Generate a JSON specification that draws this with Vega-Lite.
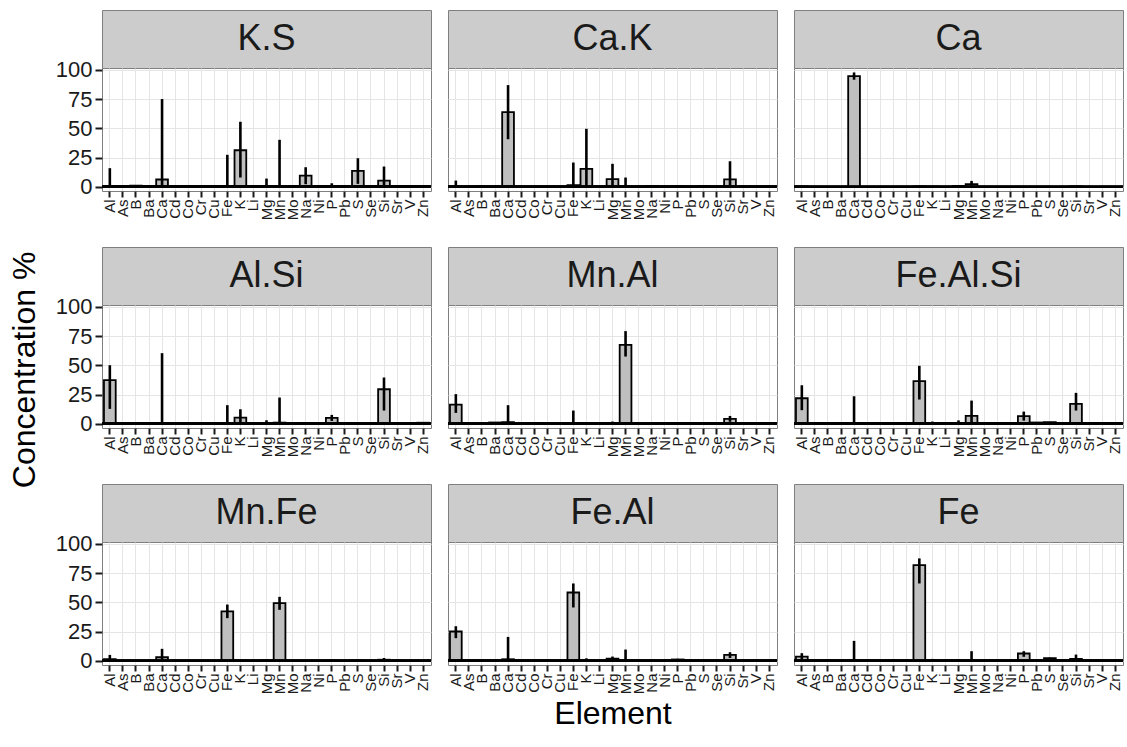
{
"$schema": "https://vega.github.io/schema/vega-lite/v6.json",
"background": "white",
"padding": {"left": 8, "top": 9, "right": 0, "bottom": 0},
"title": {"text": "Concentration %", "orient": "left", "anchor": "middle", "fontSize": 32, "font": "Liberation Sans", "fontWeight": "normal", "color": "#000000", "offset": 13},
"config": {
  "font": "Liberation Sans",
  "view": {"stroke": "#7f7f7f", "strokeWidth": 1},
  "axis": {"labelFont": "Liberation Sans", "titleFont": "Liberation Sans", "labelColor": "#1a1a1a", "titleColor": "#000000", "tickColor": "#1a1a1a", "tickWidth": 2, "domain": false, "gridColor": "#e5e5e5", "gridWidth": 1, "titleFontWeight": "normal"},
  "axisX": {"labelAngle": -90, "labelFontSize": 15, "tickSize": 6, "labelPadding": 2, "grid": true, "bandPosition": 0.5, "titleFontSize": 32, "titlePadding": 5},
  "axisY": {"labelFontSize": 22, "tickSize": 7, "labelPadding": 3, "grid": true}
},
"datasets": {
"d": [
{"p":"K.S","el":"Al","m":0.3,"lo":0,"hi":16},
{"p":"K.S","el":"B","m":1,"lo":0.5,"hi":1.5},
{"p":"K.S","el":"Ba","m":0.3},
{"p":"K.S","el":"Ca","m":6.3,"lo":0,"hi":75},
{"p":"K.S","el":"Fe","m":0.3,"lo":0,"hi":27.4},
{"p":"K.S","el":"K","m":31.3,"lo":8,"hi":55.6},
{"p":"K.S","el":"Li","m":0.5},
{"p":"K.S","el":"Mg","m":0.2,"lo":0,"hi":7.1},
{"p":"K.S","el":"Mn","m":0.3,"lo":0,"hi":40.2},
{"p":"K.S","el":"Na","m":9.7,"lo":2.3,"hi":16.8},
{"p":"K.S","el":"P","m":0.2,"lo":0,"hi":3.1},
{"p":"K.S","el":"Pb","m":0.4},
{"p":"K.S","el":"S","m":13.7,"lo":2.6,"hi":24.5},
{"p":"K.S","el":"Si","m":5.4,"lo":0,"hi":17.4},
{"p":"K.S","el":"Sr","m":0.2},
{"p":"K.S","el":"Zn","m":0.5},
{"p":"Ca.K","el":"Al","m":0.2,"lo":0,"hi":5.4},
{"p":"Ca.K","el":"B","m":0.5,"lo":0,"hi":1},
{"p":"Ca.K","el":"Ca","m":63.8,"lo":40.7,"hi":86.9},
{"p":"Ca.K","el":"Fe","m":1.4,"lo":0,"hi":20.8},
{"p":"Ca.K","el":"K","m":15.4,"lo":0,"hi":49.6},
{"p":"Ca.K","el":"Mg","m":6.6,"lo":0,"hi":19.7},
{"p":"Ca.K","el":"Mn","m":0.3,"lo":0,"hi":8},
{"p":"Ca.K","el":"Na","m":0.8},
{"p":"Ca.K","el":"P","m":0.5},
{"p":"Ca.K","el":"S","m":0.8},
{"p":"Ca.K","el":"Si","m":6.5,"lo":0,"hi":21.9},
{"p":"Ca","el":"Al","m":0.5},
{"p":"Ca","el":"Ca","m":94.6,"lo":91.5,"hi":97.7},
{"p":"Ca","el":"Fe","m":0.5},
{"p":"Ca","el":"K","m":0.3},
{"p":"Ca","el":"Mg","m":0.8},
{"p":"Ca","el":"Mn","m":2.3,"lo":0,"hi":5.1},
{"p":"Ca","el":"Si","m":0.5},
{"p":"Al.Si","el":"Al","m":37.3,"lo":12.8,"hi":50.1},
{"p":"Al.Si","el":"B","m":0.3},
{"p":"Al.Si","el":"Ba","m":0.8},
{"p":"Al.Si","el":"Ca","m":0.3,"lo":0,"hi":60.4},
{"p":"Al.Si","el":"Fe","m":0.3,"lo":0,"hi":16},
{"p":"Al.Si","el":"K","m":5.4,"lo":0,"hi":12.5},
{"p":"Al.Si","el":"Mg","m":0.2,"lo":0,"hi":3.1},
{"p":"Al.Si","el":"Mn","m":1.1,"lo":0,"hi":22.5},
{"p":"Al.Si","el":"Na","m":0.8},
{"p":"Al.Si","el":"P","m":5.1,"lo":2.5,"hi":7.7},
{"p":"Al.Si","el":"Pb","m":0.3},
{"p":"Al.Si","el":"Si","m":29.6,"lo":11.4,"hi":39.6},
{"p":"Al.Si","el":"Sr","m":0.3},
{"p":"Al.Si","el":"Zn","m":1},
{"p":"Mn.Al","el":"Al","m":16.5,"lo":9.4,"hi":25.4},
{"p":"Mn.Al","el":"Ba","m":1.2},
{"p":"Mn.Al","el":"Ca","m":1.5,"lo":0,"hi":16},
{"p":"Mn.Al","el":"Co","m":0.5},
{"p":"Mn.Al","el":"Fe","m":0.3,"lo":0,"hi":11.4},
{"p":"Mn.Al","el":"K","m":0.3,"lo":0,"hi":1.5},
{"p":"Mn.Al","el":"Mg","m":0.8,"lo":0,"hi":2},
{"p":"Mn.Al","el":"Mn","m":67.5,"lo":57.5,"hi":79.2},
{"p":"Mn.Al","el":"Ni","m":0.3},
{"p":"Mn.Al","el":"P","m":0.8},
{"p":"Mn.Al","el":"Pb","m":0.5},
{"p":"Mn.Al","el":"S","m":0.3},
{"p":"Mn.Al","el":"Si","m":4.3,"lo":1.8,"hi":6.8},
{"p":"Mn.Al","el":"Zn","m":0.5},
{"p":"Fe.Al.Si","el":"Al","m":21.9,"lo":11.7,"hi":33},
{"p":"Fe.Al.Si","el":"Ba","m":0.3},
{"p":"Fe.Al.Si","el":"Ca","m":0.2,"lo":0,"hi":23.6},
{"p":"Fe.Al.Si","el":"Cu","m":0.3},
{"p":"Fe.Al.Si","el":"Fe","m":36.5,"lo":20.8,"hi":49.6},
{"p":"Fe.Al.Si","el":"K","m":0.3,"lo":0,"hi":2},
{"p":"Fe.Al.Si","el":"Li","m":0.3},
{"p":"Fe.Al.Si","el":"Mg","m":0.3,"lo":0,"hi":3},
{"p":"Fe.Al.Si","el":"Mn","m":6.8,"lo":0,"hi":19.9},
{"p":"Fe.Al.Si","el":"P","m":6.6,"lo":2.8,"hi":10.5},
{"p":"Fe.Al.Si","el":"Pb","m":1.2},
{"p":"Fe.Al.Si","el":"S","m":1.5},
{"p":"Fe.Al.Si","el":"Si","m":17.1,"lo":11.4,"hi":26.5},
{"p":"Fe.Al.Si","el":"Sr","m":0.3},
{"p":"Fe.Al.Si","el":"V","m":0.3},
{"p":"Fe.Al.Si","el":"Zn","m":0.3},
{"p":"Mn.Fe","el":"Al","m":1.4,"lo":0,"hi":5.1},
{"p":"Mn.Fe","el":"Ca","m":3.1,"lo":0,"hi":10.3},
{"p":"Mn.Fe","el":"Fe","m":42.2,"lo":36.5,"hi":48.1},
{"p":"Mn.Fe","el":"K","m":0.3},
{"p":"Mn.Fe","el":"Mg","m":0.5},
{"p":"Mn.Fe","el":"Mn","m":49.3,"lo":43.6,"hi":54.7},
{"p":"Mn.Fe","el":"P","m":0.3},
{"p":"Mn.Fe","el":"S","m":0.3},
{"p":"Mn.Fe","el":"Si","m":1,"lo":0,"hi":2.5},
{"p":"Mn.Fe","el":"Sr","m":0.2},
{"p":"Fe.Al","el":"Al","m":25.1,"lo":19.4,"hi":29.6},
{"p":"Fe.Al","el":"B","m":0.3},
{"p":"Fe.Al","el":"Ca","m":1.4,"lo":0,"hi":20.5},
{"p":"Fe.Al","el":"Cr","m":0.3},
{"p":"Fe.Al","el":"Fe","m":58.4,"lo":45.6,"hi":66.1},
{"p":"Fe.Al","el":"K","m":0.3,"lo":0,"hi":2.2},
{"p":"Fe.Al","el":"Mg","m":2,"lo":0.5,"hi":3.7},
{"p":"Fe.Al","el":"Mn","m":0.3,"lo":0,"hi":9.7},
{"p":"Fe.Al","el":"P","m":1.2,"lo":0.6,"hi":1.8},
{"p":"Fe.Al","el":"S","m":0.3,"lo":0,"hi":1},
{"p":"Fe.Al","el":"Si","m":5.1,"lo":2.5,"hi":7.4},
{"p":"Fe.Al","el":"Zn","m":0.3},
{"p":"Fe","el":"Al","m":3.7,"lo":0.8,"hi":6.6},
{"p":"Fe","el":"B","m":0.3},
{"p":"Fe","el":"Ca","m":0.2,"lo":0,"hi":17.1},
{"p":"Fe","el":"Cr","m":0.3},
{"p":"Fe","el":"Fe","m":81.8,"lo":66.1,"hi":87.5},
{"p":"Fe","el":"K","m":0.3,"lo":0,"hi":1.7},
{"p":"Fe","el":"Li","m":0.3},
{"p":"Fe","el":"Mg","m":0.3,"lo":0,"hi":1.5},
{"p":"Fe","el":"Mn","m":0.3,"lo":0,"hi":8.3},
{"p":"Fe","el":"P","m":6.3,"lo":3.5,"hi":8.3},
{"p":"Fe","el":"S","m":2.3,"lo":1.8,"hi":2.8},
{"p":"Fe","el":"Si","m":1.7,"lo":0,"hi":5.4},
{"p":"Fe","el":"V","m":0.3}
]
},
"vconcat": [
{"hconcat": [
 {"vconcat": [
  {"width":329,"height":58,"data":{"values":[{"p":"K.S"}]},"mark":{"type":"text","fontSize":36,"font":"Liberation Sans","color":"#1a1a1a"},"encoding":{"text":{"field":"p"}},"view":{"fill":"#cccccc","stroke":"#7f7f7f"}},
  {"width":329,"height":123,"data":{"name":"d"},"transform":[{"filter":{"field":"p","equal":"K.S"}}],
   "layer":[
    {"mark":{"type":"bar","fill":"#bfbfbf","stroke":"#000000","strokeWidth":1.8},
     "encoding":{"x":{"field":"el","type":"nominal","sort":["Al","As","B","Ba","Ca","Cd","Co","Cr","Cu","Fe","K","Li","Mg","Mn","Mo","Na","Ni","P","Pb","S","Se","Si","Sr","V","Zn"],"scale":{"domain":["Al","As","B","Ba","Ca","Cd","Co","Cr","Cu","Fe","K","Li","Mg","Mn","Mo","Na","Ni","P","Pb","S","Se","Si","Sr","V","Zn"],"paddingInner":0.1,"paddingOuter":0.15},"title":null},
      "y":{"field":"m","type":"quantitative","scale":{"domain":[-3.5,101.5],"nice":false,"zero":false},"axis":{"values":[0,25,50,75,100]},"title":null}}},
    {"mark":{"type":"rule","stroke":"#000000","strokeWidth":2.2},"encoding":{"y":{"datum":0,"axis":null}}},
    {"mark":{"type":"rule","stroke":"#000000","strokeWidth":2.6},
     "encoding":{"x":{"field":"el","type":"nominal"},"y":{"field":"lo","type":"quantitative","axis":{"orient":"right","values":[12.5,37.5,62.5,87.5],"labels":false,"ticks":false,"gridColor":"#f0f0f0"},"title":null},"y2":{"field":"hi"}}}
   ],
   "resolve":{"axis":{"y":"independent"}}}
 ], "spacing":0, "bounds":"flush"},
 {"vconcat": [
  {"width":329,"height":58,"data":{"values":[{"p":"Ca.K"}]},"mark":{"type":"text","fontSize":36,"font":"Liberation Sans","color":"#1a1a1a"},"encoding":{"text":{"field":"p"}},"view":{"fill":"#cccccc","stroke":"#7f7f7f"}},
  {"width":329,"height":123,"data":{"name":"d"},"transform":[{"filter":{"field":"p","equal":"Ca.K"}}],
   "layer":[
    {"mark":{"type":"bar","fill":"#bfbfbf","stroke":"#000000","strokeWidth":1.8},
     "encoding":{"x":{"field":"el","type":"nominal","sort":["Al","As","B","Ba","Ca","Cd","Co","Cr","Cu","Fe","K","Li","Mg","Mn","Mo","Na","Ni","P","Pb","S","Se","Si","Sr","V","Zn"],"scale":{"domain":["Al","As","B","Ba","Ca","Cd","Co","Cr","Cu","Fe","K","Li","Mg","Mn","Mo","Na","Ni","P","Pb","S","Se","Si","Sr","V","Zn"],"paddingInner":0.1,"paddingOuter":0.15},"title":null},
      "y":{"field":"m","type":"quantitative","scale":{"domain":[-3.5,101.5],"nice":false,"zero":false},"axis":{"values":[0,25,50,75,100],"labels":false,"ticks":false},"title":null}}},
    {"mark":{"type":"rule","stroke":"#000000","strokeWidth":2.2},"encoding":{"y":{"datum":0,"axis":null}}},
    {"mark":{"type":"rule","stroke":"#000000","strokeWidth":2.6},
     "encoding":{"x":{"field":"el","type":"nominal"},"y":{"field":"lo","type":"quantitative","axis":{"orient":"right","values":[12.5,37.5,62.5,87.5],"labels":false,"ticks":false,"gridColor":"#f0f0f0"},"title":null},"y2":{"field":"hi"}}}
   ],
   "resolve":{"axis":{"y":"independent"}}}
 ], "spacing":0, "bounds":"flush"},
 {"vconcat": [
  {"width":329,"height":58,"data":{"values":[{"p":"Ca"}]},"mark":{"type":"text","fontSize":36,"font":"Liberation Sans","color":"#1a1a1a"},"encoding":{"text":{"field":"p"}},"view":{"fill":"#cccccc","stroke":"#7f7f7f"}},
  {"width":329,"height":123,"data":{"name":"d"},"transform":[{"filter":{"field":"p","equal":"Ca"}}],
   "layer":[
    {"mark":{"type":"bar","fill":"#bfbfbf","stroke":"#000000","strokeWidth":1.8},
     "encoding":{"x":{"field":"el","type":"nominal","sort":["Al","As","B","Ba","Ca","Cd","Co","Cr","Cu","Fe","K","Li","Mg","Mn","Mo","Na","Ni","P","Pb","S","Se","Si","Sr","V","Zn"],"scale":{"domain":["Al","As","B","Ba","Ca","Cd","Co","Cr","Cu","Fe","K","Li","Mg","Mn","Mo","Na","Ni","P","Pb","S","Se","Si","Sr","V","Zn"],"paddingInner":0.1,"paddingOuter":0.15},"title":null},
      "y":{"field":"m","type":"quantitative","scale":{"domain":[-3.5,101.5],"nice":false,"zero":false},"axis":{"values":[0,25,50,75,100],"labels":false,"ticks":false},"title":null}}},
    {"mark":{"type":"rule","stroke":"#000000","strokeWidth":2.2},"encoding":{"y":{"datum":0,"axis":null}}},
    {"mark":{"type":"rule","stroke":"#000000","strokeWidth":2.6},
     "encoding":{"x":{"field":"el","type":"nominal"},"y":{"field":"lo","type":"quantitative","axis":{"orient":"right","values":[12.5,37.5,62.5,87.5],"labels":false,"ticks":false,"gridColor":"#f0f0f0"},"title":null},"y2":{"field":"hi"}}}
   ],
   "resolve":{"axis":{"y":"independent"}}}
 ], "spacing":0, "bounds":"flush"}
], "spacing":13},
{"hconcat": [
 {"vconcat": [
  {"width":329,"height":58,"data":{"values":[{"p":"Al.Si"}]},"mark":{"type":"text","fontSize":36,"font":"Liberation Sans","color":"#1a1a1a"},"encoding":{"text":{"field":"p"}},"view":{"fill":"#cccccc","stroke":"#7f7f7f"}},
  {"width":329,"height":123,"data":{"name":"d"},"transform":[{"filter":{"field":"p","equal":"Al.Si"}}],
   "layer":[
    {"mark":{"type":"bar","fill":"#bfbfbf","stroke":"#000000","strokeWidth":1.8},
     "encoding":{"x":{"field":"el","type":"nominal","sort":["Al","As","B","Ba","Ca","Cd","Co","Cr","Cu","Fe","K","Li","Mg","Mn","Mo","Na","Ni","P","Pb","S","Se","Si","Sr","V","Zn"],"scale":{"domain":["Al","As","B","Ba","Ca","Cd","Co","Cr","Cu","Fe","K","Li","Mg","Mn","Mo","Na","Ni","P","Pb","S","Se","Si","Sr","V","Zn"],"paddingInner":0.1,"paddingOuter":0.15},"title":null},
      "y":{"field":"m","type":"quantitative","scale":{"domain":[-3.5,101.5],"nice":false,"zero":false},"axis":{"values":[0,25,50,75,100]},"title":null}}},
    {"mark":{"type":"rule","stroke":"#000000","strokeWidth":2.2},"encoding":{"y":{"datum":0,"axis":null}}},
    {"mark":{"type":"rule","stroke":"#000000","strokeWidth":2.6},
     "encoding":{"x":{"field":"el","type":"nominal"},"y":{"field":"lo","type":"quantitative","axis":{"orient":"right","values":[12.5,37.5,62.5,87.5],"labels":false,"ticks":false,"gridColor":"#f0f0f0"},"title":null},"y2":{"field":"hi"}}}
   ],
   "resolve":{"axis":{"y":"independent"}}}
 ], "spacing":0, "bounds":"flush"},
 {"vconcat": [
  {"width":329,"height":58,"data":{"values":[{"p":"Mn.Al"}]},"mark":{"type":"text","fontSize":36,"font":"Liberation Sans","color":"#1a1a1a"},"encoding":{"text":{"field":"p"}},"view":{"fill":"#cccccc","stroke":"#7f7f7f"}},
  {"width":329,"height":123,"data":{"name":"d"},"transform":[{"filter":{"field":"p","equal":"Mn.Al"}}],
   "layer":[
    {"mark":{"type":"bar","fill":"#bfbfbf","stroke":"#000000","strokeWidth":1.8},
     "encoding":{"x":{"field":"el","type":"nominal","sort":["Al","As","B","Ba","Ca","Cd","Co","Cr","Cu","Fe","K","Li","Mg","Mn","Mo","Na","Ni","P","Pb","S","Se","Si","Sr","V","Zn"],"scale":{"domain":["Al","As","B","Ba","Ca","Cd","Co","Cr","Cu","Fe","K","Li","Mg","Mn","Mo","Na","Ni","P","Pb","S","Se","Si","Sr","V","Zn"],"paddingInner":0.1,"paddingOuter":0.15},"title":null},
      "y":{"field":"m","type":"quantitative","scale":{"domain":[-3.5,101.5],"nice":false,"zero":false},"axis":{"values":[0,25,50,75,100],"labels":false,"ticks":false},"title":null}}},
    {"mark":{"type":"rule","stroke":"#000000","strokeWidth":2.2},"encoding":{"y":{"datum":0,"axis":null}}},
    {"mark":{"type":"rule","stroke":"#000000","strokeWidth":2.6},
     "encoding":{"x":{"field":"el","type":"nominal"},"y":{"field":"lo","type":"quantitative","axis":{"orient":"right","values":[12.5,37.5,62.5,87.5],"labels":false,"ticks":false,"gridColor":"#f0f0f0"},"title":null},"y2":{"field":"hi"}}}
   ],
   "resolve":{"axis":{"y":"independent"}}}
 ], "spacing":0, "bounds":"flush"},
 {"vconcat": [
  {"width":329,"height":58,"data":{"values":[{"p":"Fe.Al.Si"}]},"mark":{"type":"text","fontSize":36,"font":"Liberation Sans","color":"#1a1a1a"},"encoding":{"text":{"field":"p"}},"view":{"fill":"#cccccc","stroke":"#7f7f7f"}},
  {"width":329,"height":123,"data":{"name":"d"},"transform":[{"filter":{"field":"p","equal":"Fe.Al.Si"}}],
   "layer":[
    {"mark":{"type":"bar","fill":"#bfbfbf","stroke":"#000000","strokeWidth":1.8},
     "encoding":{"x":{"field":"el","type":"nominal","sort":["Al","As","B","Ba","Ca","Cd","Co","Cr","Cu","Fe","K","Li","Mg","Mn","Mo","Na","Ni","P","Pb","S","Se","Si","Sr","V","Zn"],"scale":{"domain":["Al","As","B","Ba","Ca","Cd","Co","Cr","Cu","Fe","K","Li","Mg","Mn","Mo","Na","Ni","P","Pb","S","Se","Si","Sr","V","Zn"],"paddingInner":0.1,"paddingOuter":0.15},"title":null},
      "y":{"field":"m","type":"quantitative","scale":{"domain":[-3.5,101.5],"nice":false,"zero":false},"axis":{"values":[0,25,50,75,100],"labels":false,"ticks":false},"title":null}}},
    {"mark":{"type":"rule","stroke":"#000000","strokeWidth":2.2},"encoding":{"y":{"datum":0,"axis":null}}},
    {"mark":{"type":"rule","stroke":"#000000","strokeWidth":2.6},
     "encoding":{"x":{"field":"el","type":"nominal"},"y":{"field":"lo","type":"quantitative","axis":{"orient":"right","values":[12.5,37.5,62.5,87.5],"labels":false,"ticks":false,"gridColor":"#f0f0f0"},"title":null},"y2":{"field":"hi"}}}
   ],
   "resolve":{"axis":{"y":"independent"}}}
 ], "spacing":0, "bounds":"flush"}
], "spacing":13},
{"hconcat": [
 {"vconcat": [
  {"width":329,"height":58,"data":{"values":[{"p":"Mn.Fe"}]},"mark":{"type":"text","fontSize":36,"font":"Liberation Sans","color":"#1a1a1a"},"encoding":{"text":{"field":"p"}},"view":{"fill":"#cccccc","stroke":"#7f7f7f"}},
  {"width":329,"height":123,"data":{"name":"d"},"transform":[{"filter":{"field":"p","equal":"Mn.Fe"}}],
   "layer":[
    {"mark":{"type":"bar","fill":"#bfbfbf","stroke":"#000000","strokeWidth":1.8},
     "encoding":{"x":{"field":"el","type":"nominal","sort":["Al","As","B","Ba","Ca","Cd","Co","Cr","Cu","Fe","K","Li","Mg","Mn","Mo","Na","Ni","P","Pb","S","Se","Si","Sr","V","Zn"],"scale":{"domain":["Al","As","B","Ba","Ca","Cd","Co","Cr","Cu","Fe","K","Li","Mg","Mn","Mo","Na","Ni","P","Pb","S","Se","Si","Sr","V","Zn"],"paddingInner":0.1,"paddingOuter":0.15},"title":null},
      "y":{"field":"m","type":"quantitative","scale":{"domain":[-3.5,101.5],"nice":false,"zero":false},"axis":{"values":[0,25,50,75,100]},"title":null}}},
    {"mark":{"type":"rule","stroke":"#000000","strokeWidth":2.2},"encoding":{"y":{"datum":0,"axis":null}}},
    {"mark":{"type":"rule","stroke":"#000000","strokeWidth":2.6},
     "encoding":{"x":{"field":"el","type":"nominal"},"y":{"field":"lo","type":"quantitative","axis":{"orient":"right","values":[12.5,37.5,62.5,87.5],"labels":false,"ticks":false,"gridColor":"#f0f0f0"},"title":null},"y2":{"field":"hi"}}}
   ],
   "resolve":{"axis":{"y":"independent"}}}
 ], "spacing":0, "bounds":"flush"},
 {"vconcat": [
  {"width":329,"height":58,"data":{"values":[{"p":"Fe.Al"}]},"mark":{"type":"text","fontSize":36,"font":"Liberation Sans","color":"#1a1a1a"},"encoding":{"text":{"field":"p"}},"view":{"fill":"#cccccc","stroke":"#7f7f7f"}},
  {"width":329,"height":123,"data":{"name":"d"},"transform":[{"filter":{"field":"p","equal":"Fe.Al"}}],
   "layer":[
    {"mark":{"type":"bar","fill":"#bfbfbf","stroke":"#000000","strokeWidth":1.8},
     "encoding":{"x":{"field":"el","type":"nominal","sort":["Al","As","B","Ba","Ca","Cd","Co","Cr","Cu","Fe","K","Li","Mg","Mn","Mo","Na","Ni","P","Pb","S","Se","Si","Sr","V","Zn"],"scale":{"domain":["Al","As","B","Ba","Ca","Cd","Co","Cr","Cu","Fe","K","Li","Mg","Mn","Mo","Na","Ni","P","Pb","S","Se","Si","Sr","V","Zn"],"paddingInner":0.1,"paddingOuter":0.15},"title":"Element"},
      "y":{"field":"m","type":"quantitative","scale":{"domain":[-3.5,101.5],"nice":false,"zero":false},"axis":{"values":[0,25,50,75,100],"labels":false,"ticks":false},"title":null}}},
    {"mark":{"type":"rule","stroke":"#000000","strokeWidth":2.2},"encoding":{"y":{"datum":0,"axis":null}}},
    {"mark":{"type":"rule","stroke":"#000000","strokeWidth":2.6},
     "encoding":{"x":{"field":"el","type":"nominal"},"y":{"field":"lo","type":"quantitative","axis":{"orient":"right","values":[12.5,37.5,62.5,87.5],"labels":false,"ticks":false,"gridColor":"#f0f0f0"},"title":null},"y2":{"field":"hi"}}}
   ],
   "resolve":{"axis":{"y":"independent"}}}
 ], "spacing":0, "bounds":"flush"},
 {"vconcat": [
  {"width":329,"height":58,"data":{"values":[{"p":"Fe"}]},"mark":{"type":"text","fontSize":36,"font":"Liberation Sans","color":"#1a1a1a"},"encoding":{"text":{"field":"p"}},"view":{"fill":"#cccccc","stroke":"#7f7f7f"}},
  {"width":329,"height":123,"data":{"name":"d"},"transform":[{"filter":{"field":"p","equal":"Fe"}}],
   "layer":[
    {"mark":{"type":"bar","fill":"#bfbfbf","stroke":"#000000","strokeWidth":1.8},
     "encoding":{"x":{"field":"el","type":"nominal","sort":["Al","As","B","Ba","Ca","Cd","Co","Cr","Cu","Fe","K","Li","Mg","Mn","Mo","Na","Ni","P","Pb","S","Se","Si","Sr","V","Zn"],"scale":{"domain":["Al","As","B","Ba","Ca","Cd","Co","Cr","Cu","Fe","K","Li","Mg","Mn","Mo","Na","Ni","P","Pb","S","Se","Si","Sr","V","Zn"],"paddingInner":0.1,"paddingOuter":0.15},"title":null},
      "y":{"field":"m","type":"quantitative","scale":{"domain":[-3.5,101.5],"nice":false,"zero":false},"axis":{"values":[0,25,50,75,100],"labels":false,"ticks":false},"title":null}}},
    {"mark":{"type":"rule","stroke":"#000000","strokeWidth":2.2},"encoding":{"y":{"datum":0,"axis":null}}},
    {"mark":{"type":"rule","stroke":"#000000","strokeWidth":2.6},
     "encoding":{"x":{"field":"el","type":"nominal"},"y":{"field":"lo","type":"quantitative","axis":{"orient":"right","values":[12.5,37.5,62.5,87.5],"labels":false,"ticks":false,"gridColor":"#f0f0f0"},"title":null},"y2":{"field":"hi"}}}
   ],
   "resolve":{"axis":{"y":"independent"}}}
 ], "spacing":0, "bounds":"flush"}
], "spacing":13}
],
"spacing": 25
}
